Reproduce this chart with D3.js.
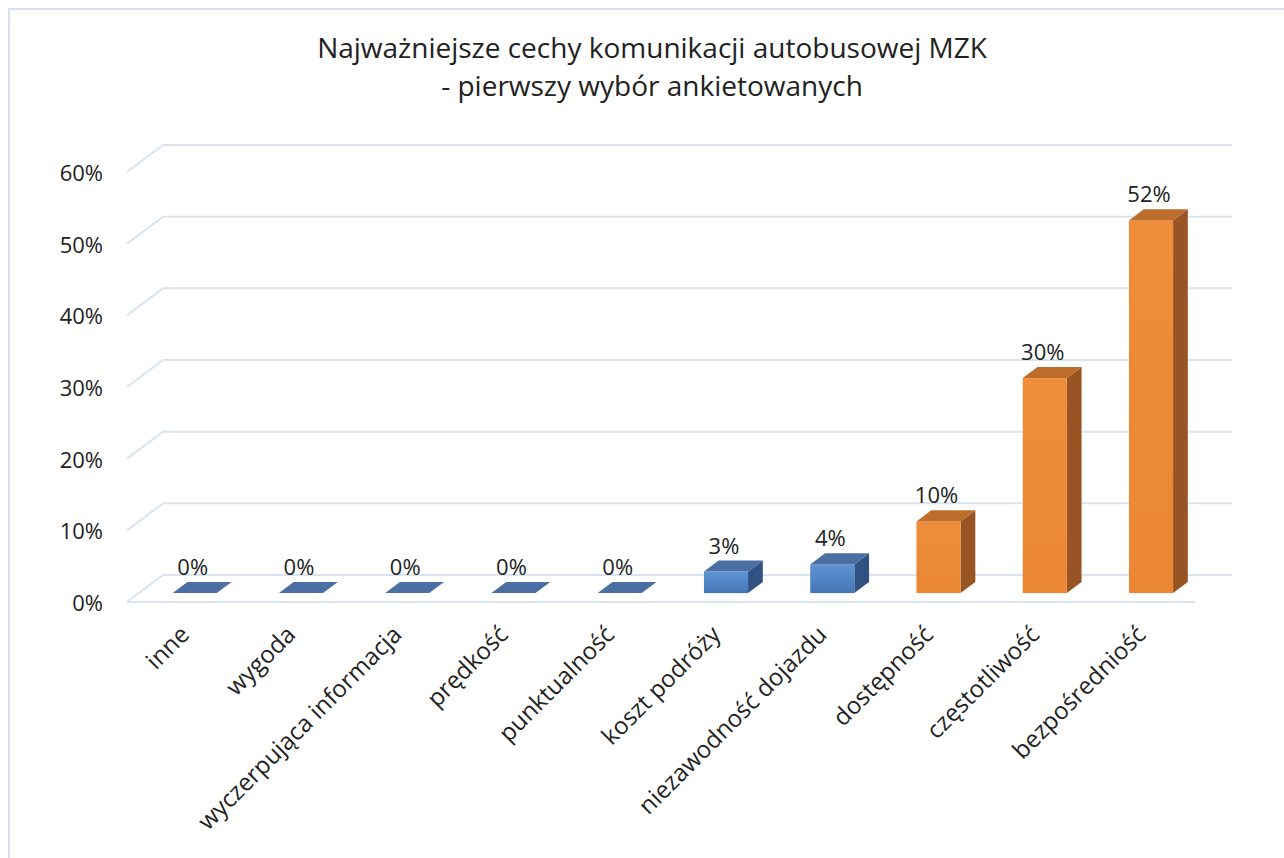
<!DOCTYPE html>
<html>
<head>
<meta charset="utf-8">
<script src="https://d3js.org/d3.v7.min.js"></script>
<style>
  body { margin:0; background:#fff; }
  svg { display:block; font-family:"Open Sans", sans-serif; }
</style>
</head>
<body>
<div id="chart"></div>
<script>
// ---- data ----
const titleLines = ["Najważniejsze cechy komunikacji autobusowej MZK", "- pierwszy wybór ankietowanych"];
const categories = ["inne", "wygoda", "wyczerpująca informacja", "prędkość", "punktualność",
  "koszt podróży", "niezawodność dojazdu", "dostępność", "częstotliwość", "bezpośredniość"];
const values = [0, 0, 0, 0, 0, 3, 4, 10, 30, 52];
const groups = ["b", "b", "b", "b", "b", "b", "b", "o", "o", "o"];
const yTicks = [0, 10, 20, 30, 40, 50, 60];

const W = 1284, H = 858;
const svg = d3.select("#chart").append("svg").attr("width", W).attr("height", H);

// palettes
const pal = {
  b: { front: ["#5f93d3", "#4577b8"], top: "#4b6fa2", side: "#2f5283" },
  o: { front: ["#ef8d3b", "#ea8634"], top: "#bd6d2b", side: "#985523" }
};
const defs = svg.append("defs");
Object.entries(pal).forEach(([k, p]) => {
  const g = defs.append("linearGradient").attr("id", "grad-" + k)
    .attr("x1", 0).attr("y1", 0).attr("x2", 0).attr("y2", 1);
  g.append("stop").attr("offset", "0%").attr("stop-color", p.front[0]);
  g.append("stop").attr("offset", "100%").attr("stop-color", p.front[1]);
});

// chart frame
svg.append("rect").attr("x", 9).attr("y", 9).attr("width", W + 20).attr("height", H + 20)
  .attr("fill", "none").attr("stroke", "#d5e2f3").attr("stroke-width", 2);

// title
svg.append("g").selectAll("text").data(titleLines).join("text")
  .attr("x", 652).attr("y", (d, i) => 58 + i * 38)
  .attr("text-anchor", "middle").attr("font-size", 28).attr("fill", "#222")
  .text(d => d);

// 3D geometry: floor depth vector
const depth = { dx: 36, dy: -27 };
const x = d3.scaleBand().domain(categories).range([130, 1192]).paddingInner(0.585).paddingOuter(0.29);
const yFront = d3.scaleLinear().domain([0, 60]).range([602, 172]);
const grid = "#dae4f1";

// walls / gridlines
const gridG = svg.append("g");
yTicks.forEach(t => {
  const yf = yFront(t), yb = yf + depth.dy;
  const x0 = 127;
  gridG.append("path")
    .attr("d", `M${x0},${yf}L${x0 + depth.dx},${yb}L1232,${yb}`)
    .attr("fill", "none").attr("stroke", grid).attr("stroke-width", 2);
});
// floor front edge
gridG.append("line").attr("x1", 127).attr("x2", 1195)
  .attr("y1", yFront(0)).attr("y2", yFront(0))
  .attr("stroke", grid).attr("stroke-width", 2);

// y labels
svg.append("g").selectAll("text").data(yTicks).join("text")
  .attr("x", 103).attr("y", d => yFront(d) + 9)
  .attr("text-anchor", "end").attr("font-size", 22).attr("fill", "#222")
  .text(d => d + "%");

// bars (front face sits at 1/3 of floor depth, back at ~3/4)
const fd = 0.33, bd = 0.74;
const sdx = (bd - fd) * depth.dx, sdy = (bd - fd) * depth.dy;
const bars = categories.map((c, i) => {
  const w = x.bandwidth();
  const x0 = x(c) + fd * depth.dx;
  const yb = yFront(0) + fd * depth.dy;
  const yt = yb - (yFront(0) - yFront(values[i]));
  return { c, v: values[i], g: groups[i], x0, w, yb, yt };
});

const barG = svg.append("g");
bars.forEach(b => {
  const p = pal[b.g];
  const g = barG.append("g");
  // side
  if (b.v > 0) {
    g.append("path")
      .attr("d", `M${b.x0 + b.w},${b.yt}L${b.x0 + b.w + sdx},${b.yt + sdy}L${b.x0 + b.w + sdx},${b.yb + sdy}L${b.x0 + b.w},${b.yb}Z`)
      .attr("fill", p.side);
    g.append("rect").attr("x", b.x0).attr("y", b.yt).attr("width", b.w).attr("height", b.yb - b.yt)
      .attr("fill", `url(#grad-${b.g})`);
  }
  // top
  g.append("path")
    .attr("d", `M${b.x0},${b.yt}L${b.x0 + sdx},${b.yt + sdy}L${b.x0 + b.w + sdx},${b.yt + sdy}L${b.x0 + b.w},${b.yt}Z`)
    .attr("fill", p.top);
});

// data labels
svg.append("g").selectAll("text").data(bars).join("text")
  .attr("x", d => d.x0 + d.w / 2 - 2)
  .attr("y", d => d.yt + sdy - 7)
  .attr("text-anchor", "middle").attr("font-size", 22).attr("fill", "#222")
  .text(d => d.v + "%");

// category labels
svg.append("g").selectAll("text").data(bars).join("text")
  .attr("transform", d => `translate(${d.x0 + d.w / 2 - 4},${636}) rotate(-45)`)
  .attr("text-anchor", "end").attr("font-size", 24).attr("fill", "#222")
  .text(d => d.c);
</script>
</body>
</html>
